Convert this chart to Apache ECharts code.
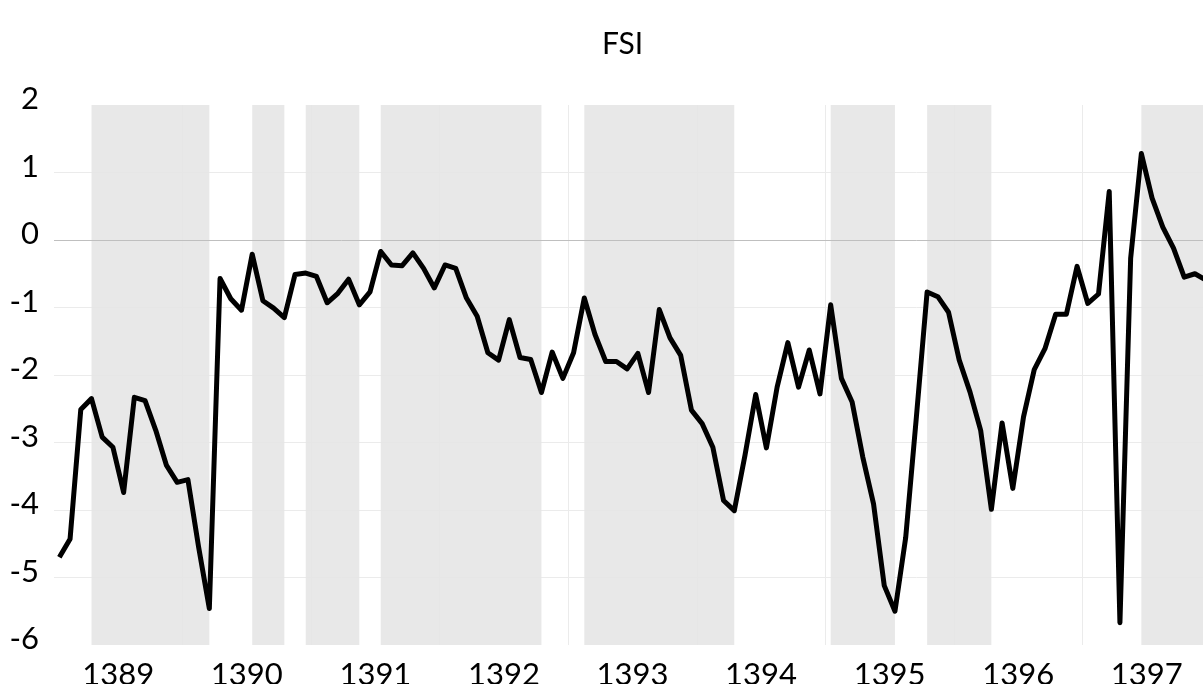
<!DOCTYPE html>
<html>
<head>
<meta charset="utf-8">
<title>FSI</title>
<script src="https://cdn.jsdelivr.net/npm/echarts@6/dist/echarts.min.js"></script>
<style>
  html, body { margin: 0; padding: 0; background: #fff; }
  #chart { width: 1203px; height: 684px; }
</style>
</head>
<body>
<div id="chart"></div>
<script>
// years on the axis (Iranian calendar), 12 monthly points each
const years = ['1389', '1390', '1391', '1392', '1393', '1394', '1395', '1396', '1397'];

// monthly FSI values
const fsi = [
  -4.70, -4.43, -2.51, -2.35, -2.92, -3.07, -3.74, -2.33, -2.38, -2.82, -3.34, -3.59,
  -3.55, -4.55, -5.46, -0.57, -0.87, -1.04, -0.21, -0.90, -1.01, -1.15, -0.51, -0.49,
  -0.54, -0.93, -0.79, -0.58, -0.96, -0.77, -0.17, -0.37, -0.38, -0.19, -0.42, -0.71,
  -0.37, -0.42, -0.86, -1.13, -1.67, -1.78, -1.18, -1.74, -1.77, -2.26, -1.66, -2.05,
  -1.67, -0.86, -1.40, -1.80, -1.80, -1.91, -1.68, -2.26, -1.03, -1.45, -1.71, -2.52,
  -2.72, -3.07, -3.86, -4.01, -3.19, -2.29, -3.08, -2.18, -1.52, -2.18, -1.63, -2.28,
  -0.96, -2.05, -2.40, -3.22, -3.91, -5.12, -5.50, -4.41, -2.62, -0.77, -0.84, -1.07,
  -1.78, -2.25, -2.82, -3.99, -2.71, -3.68, -2.62, -1.92, -1.61, -1.10, -1.10, -0.39,
  -0.94, -0.80, 0.72, -5.67, -0.27, 1.28, 0.62, 0.19, -0.12, -0.55, -0.50, -0.59
];

// shaded spells (month index where each starts and ends)
const spellStart = [3, 18, 23, 30, 49, 72, 81, 101];
const spellEnd = [14, 21, 28, 45, 63, 78, 87, 107];

const yTicks = [-6, -5, -4, -3, -2, -1, 0, 1, 2];

const months = [];
years.forEach(y => {
  for (let m = 1; m <= 12; m++) months.push(y + '-' + m);
});

const font = 'Lato, "Open Sans", sans-serif';
const myChart = echarts.init(document.getElementById('chart'));

const option = {
  animation: false,
  backgroundColor: '#fff',
  title: {
    text: 'FSI',
    left: 597,
    top: 24,
    textStyle: { fontFamily: font, fontSize: 30, fontWeight: 'normal', color: '#000' }
  },
  // the plot runs a few pixels past the right edge, as in the original
  grid: { left: 54, width: 1157, top: 105, bottom: 39, outerBoundsMode: 'none', containLabel: false },
  xAxis: [
    {
      type: 'category',
      data: months,
      boundaryGap: true,
      show: false
    },
    {
      type: 'category',
      data: years,
      position: 'bottom',
      boundaryGap: true,
      axisLine: { show: false },
      axisTick: { show: false },
      axisLabel: { interval: 0, margin: 14, color: '#000', fontFamily: font, fontSize: 31 },
      splitLine: { show: true, showMinLine: false, lineStyle: { color: '#ebebeb', width: 1 } }
    }
  ],
  yAxis: {
    type: 'value',
    min: yTicks[0],
    max: yTicks[yTicks.length - 1],
    interval: 1,
    axisLine: { show: false },
    axisTick: { show: false },
    axisLabel: {
      margin: 15,
      color: '#000',
      fontFamily: font,
      fontSize: 31,
      verticalAlign: 'bottom',
      lineHeight: 12
    },
    splitLine: {
      show: true,
      lineStyle: {
        color: ['rgba(0,0,0,0)', '#ebebeb', '#ebebeb', '#ebebeb', '#ebebeb', '#ebebeb', '#ebebeb', '#ebebeb', 'rgba(0,0,0,0)'],
        width: 1
      }
    }
  },
  series: [
    {
      name: 'FSI',
      type: 'line',
      xAxisIndex: 0,
      data: fsi,
      z: 10,
      showSymbol: false,
      symbol: 'none',
      lineStyle: { color: '#000', width: 5, join: 'round' },
      markArea: {
        silent: true,
        z: 1,
        itemStyle: { color: 'rgba(229,229,229,0.9)' },
        data: spellStart.map((s, k) => [{ xAxis: months[s] }, { xAxis: months[spellEnd[k]] }])
      },
      markLine: {
        silent: true,
        z: 5,
        symbol: 'none',
        label: { show: false },
        lineStyle: { color: '#bfbfbf', width: 1, type: 'solid' },
        data: [{ yAxis: 0 }]
      }
    }
  ]
};

myChart.setOption(option);
</script>
</body>
</html>
